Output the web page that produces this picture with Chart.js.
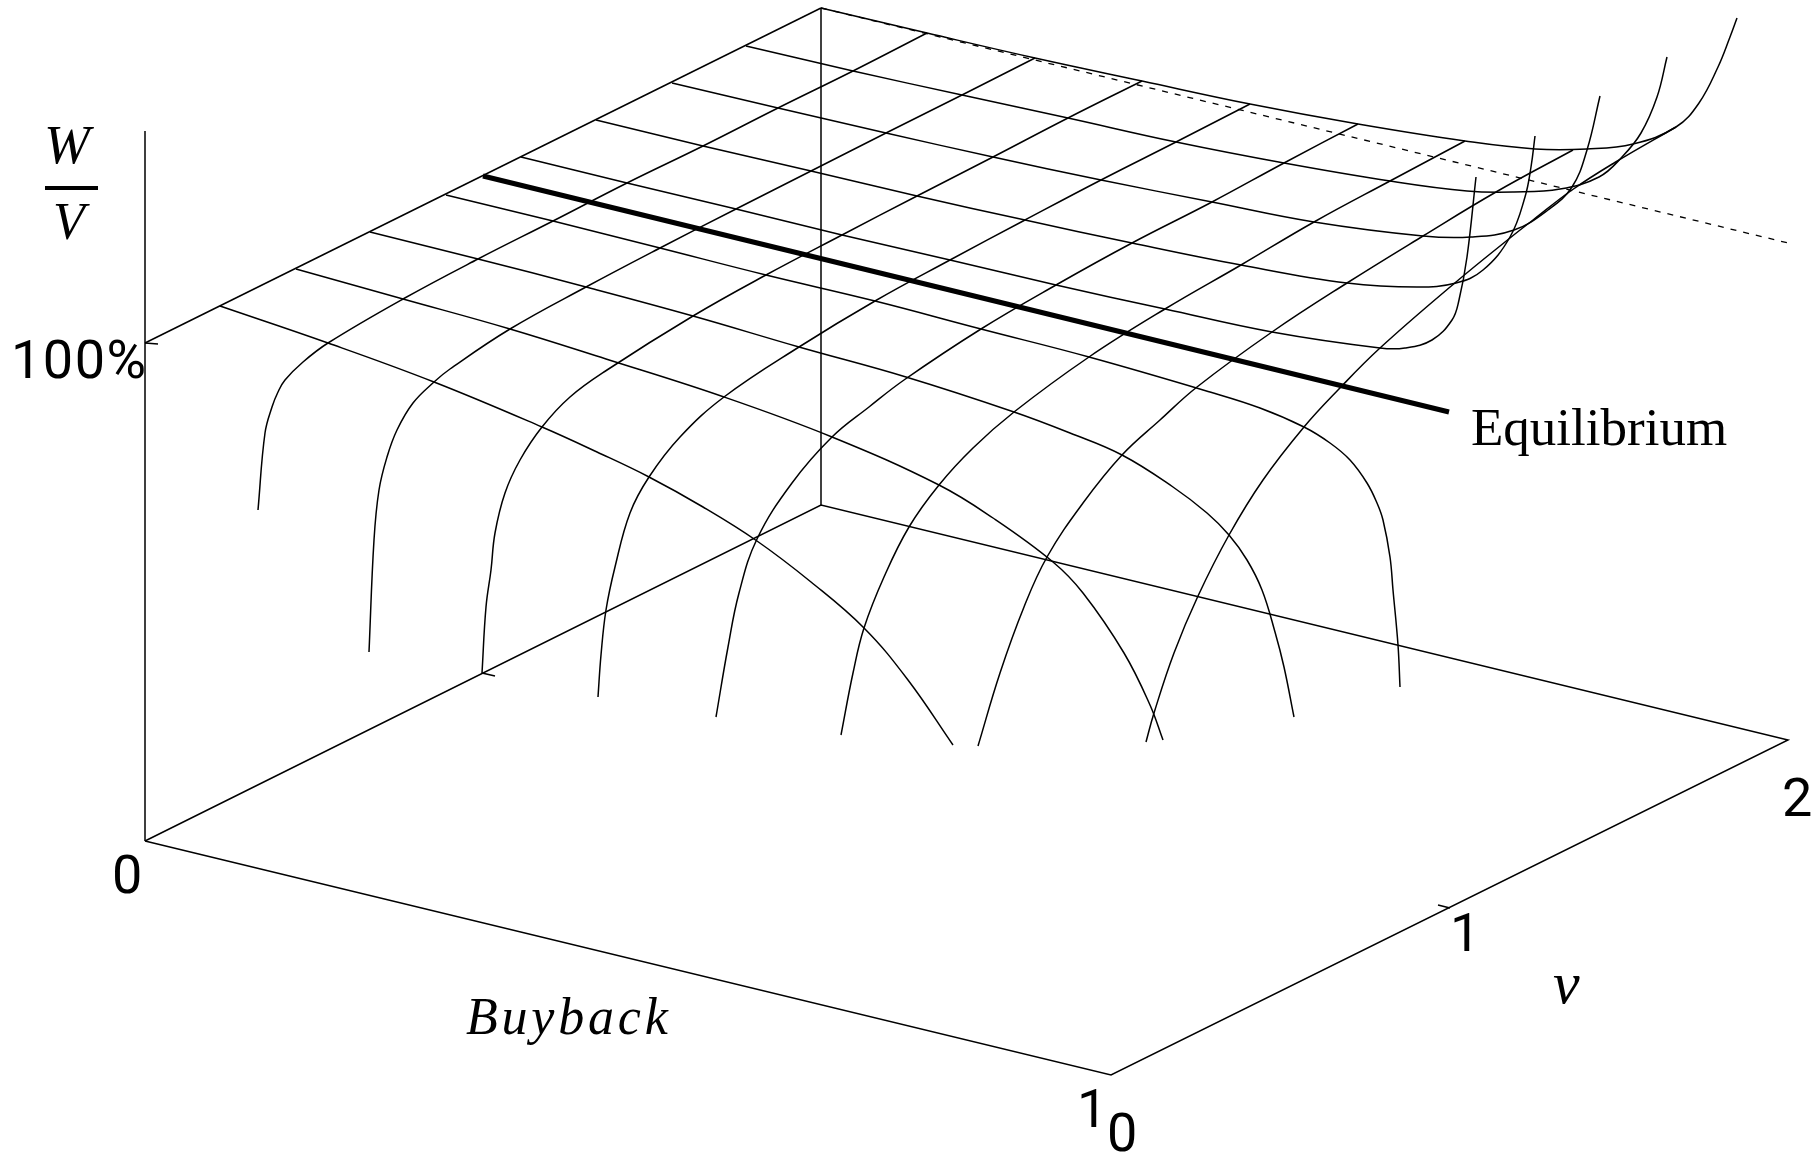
<!DOCTYPE html>
<html>
<head>
<meta charset="utf-8">
<title>Buyback surface</title>
<style>
  html, body { margin: 0; padding: 0; background: #fff; }
  canvas { display: block; }
</style>
<script src="https://cdn.jsdelivr.net/npm/chart.js@4/dist/chart.umd.js"></script>
</head>
<body>
<canvas id="surfaceChart" width="1818" height="1156"></canvas>
<script>
// box edges in picture units
const verticalAxis = [[145, 131], [145, 841]];
const floorEdges = [[145, 841], [821, 505], [1788, 740], [1111, 1075], [145, 841]];
const backPost = [[821, 505], [821, 8]];
const topLeftEdge = [[145, 343], [821, 8]];
const tickMarks = [
  [[145, 343], [158, 344]],
  [[482, 673], [495, 676]],
  [[1450, 908], [1438, 905]],
];

// equilibrium and the dashed 100% line
const equilibrium = [[483, 176], [1449, 412]];
const dashedLevel = [[821, 8], [1788, 243]];
const fractionBar = [[45, 188], [98, 188]];

// buyback direction curves, front to back
const buyback0 = [[220, 306], [328, 343], [434, 382], [542, 427], [597, 452], [649, 477], [703, 507], [757, 541], [811, 582], [864, 628], [908, 680], [953, 745]];
const buyback1 = [[296, 269], [403, 299], [510, 329], [606, 359], [724, 397], [832, 437], [939, 485], [993, 518], [1053, 562], [1083, 593], [1124, 653], [1150, 705], [1163, 740]];
const buyback2 = [[370, 232], [478, 259], [586, 287], [693, 316], [799, 347], [906, 377], [1014, 412], [1070, 433], [1122, 455], [1173, 487], [1207, 513], [1229, 535], [1247, 560], [1262, 590], [1275, 632], [1284, 667], [1294, 717]];
const buyback3 = [[446, 195], [553, 221], [660, 248], [766, 275], [875, 301], [981, 329], [1089, 357], [1210, 392], [1260, 408], [1304, 427], [1330, 443], [1350, 460], [1367, 483], [1377, 503], [1383, 520], [1390, 557], [1393, 590], [1398, 645], [1400, 687]];
const buyback4 = [[521, 157], [627, 183], [736, 209], [842, 235], [950, 260], [1056, 285], [1165, 309], [1272, 332], [1380, 348], [1405, 348], [1432, 340], [1452, 320], [1459, 300], [1467, 257], [1476, 177]];
const buyback5 = [[596, 120], [703, 146], [811, 171], [917, 196], [1025, 220], [1132, 243], [1241, 265], [1347, 283], [1417, 287], [1456, 283], [1483, 270], [1510, 237], [1525, 197], [1531, 167], [1535, 136]];
const buyback6 = [[672, 83], [778, 108], [886, 133], [993, 157], [1101, 180], [1212, 202], [1314, 222], [1423, 236], [1471, 237], [1514, 230], [1548, 210], [1572, 187], [1587, 150], [1600, 96]];
const buyback7 = [[746, 46], [853, 71], [962, 95], [1068, 118], [1176, 142], [1284, 163], [1390, 181], [1467, 191], [1514, 192], [1560, 189], [1599, 177], [1622, 157], [1641, 133], [1657, 97], [1667, 57]];
const buyback8 = [[821, 8], [927, 33], [1035, 58], [1142, 81], [1250, 104], [1358, 124], [1465, 141], [1535, 149], [1587, 149], [1633, 144], [1676, 127], [1699, 103], [1718, 67], [1730, 37], [1737, 18]];

// v direction curves, left to right
const v0 = [[927, 33], [853, 71], [778, 108], [703, 146], [627, 183], [553, 221], [478, 259], [403, 299], [328, 343], [303, 362], [285, 380], [278, 392], [272, 407], [265, 433], [258, 510]];
const v1 = [[1035, 58], [962, 95], [886, 133], [811, 171], [736, 209], [660, 248], [586, 287], [510, 329], [450, 369], [434, 382], [413, 403], [397, 430], [387, 457], [379, 490], [374, 540], [369, 652]];
const v2 = [[1142, 81], [1068, 118], [993, 157], [917, 196], [842, 235], [766, 275], [693, 316], [607, 370], [570, 397], [542, 427], [520, 460], [505, 493], [495, 533], [491, 570], [486, 607], [482, 673]];
const v3 = [[1250, 104], [1176, 142], [1101, 180], [1025, 220], [950, 260], [875, 301], [799, 347], [724, 397], [680, 437], [649, 477], [630, 513], [615, 567], [606, 610], [601, 655], [598, 697]];
const v4 = [[1358, 124], [1284, 163], [1212, 202], [1132, 243], [1056, 285], [981, 329], [904, 380], [869, 407], [832, 437], [792, 483], [757, 539], [739, 593], [728, 647], [716, 717]];
const v5 = [[1465, 141], [1390, 181], [1314, 222], [1241, 265], [1165, 309], [1089, 357], [1014, 412], [973, 448], [939, 485], [909, 527], [884, 577], [864, 628], [853, 673], [841, 735]];
const v6 = [[1573, 150], [1496, 192], [1423, 236], [1347, 283], [1272, 332], [1197, 387], [1160, 420], [1122, 455], [1083, 503], [1047, 557], [1024, 607], [1000, 673], [978, 746]];
const v7 = [[1676, 127], [1614, 163], [1572, 190], [1533, 220], [1510, 238], [1456, 282], [1380, 348], [1338, 390], [1304, 427], [1263, 480], [1229, 535], [1198, 596], [1174, 653], [1154, 713], [1146, 742]];

// labels
const tickLabels = ["100%", "0", "1", "0", "1", "2"];
const tickLabelSpots = [[11, 378], [112, 893], [1077, 1127], [1107, 1151], [1450, 951], [1782, 816]];
const italicLabels = ["W", "V", "v", "Buyback"];
const italicLabelSpots = [[44, 163], [53, 239], [1553, 1003], [466, 1034]];
const noteLabel = "Equilibrium";
const noteLabelSpot = [1471, 445];

const thinCurves = [buyback0, buyback1, buyback2, buyback3, buyback4, buyback5, buyback6, buyback7, buyback8, v0, v1, v2, v3, v4, v5, v6, v7];
const straightLines = [verticalAxis, floorEdges, backPost, topLeftEdge, ...tickMarks];

function toPoints(line) {
  return line.map(function (p) {
    return { x: p[0], y: p[1] };
  });
}

function lineSet(line, width, tension, dash) {
  return {
    data: toPoints(line),
    showLine: true,
    borderColor: "#000",
    borderWidth: width,
    borderDash: dash || [],
    tension: tension,
    pointRadius: 0,
    fill: false,
  };
}

// text sits at scale positions, the canvas has no axes to hang it on
const textPlugin = {
  id: "surfaceText",
  afterDraw(chart) {
    const ctx = chart.ctx;
    const xs = chart.scales.x;
    const ys = chart.scales.y;

    function put(text, spot, font, spacing) {
      ctx.font = font;
      ctx.letterSpacing = spacing || "0px";
      ctx.fillText(text, xs.getPixelForValue(spot[0]), ys.getPixelForValue(spot[1]));
    }

    ctx.save();
    ctx.fillStyle = "#000";
    ctx.textAlign = "left";
    ctx.textBaseline = "alphabetic";
    tickLabels.forEach(function (t, i) {
      put(t, tickLabelSpots[i], "54px Roboto", i === 0 ? "1.5px" : "0px");
    });
    put(italicLabels[0], italicLabelSpots[0], 'italic 55px "Liberation Serif"');
    put(italicLabels[1], italicLabelSpots[1], 'italic 52px "Liberation Serif"');
    put(italicLabels[2], italicLabelSpots[2], 'italic 60px "Liberation Serif"');
    put(italicLabels[3], italicLabelSpots[3], 'italic 52px "Liberation Serif"', "3.8px");
    put(noteLabel, noteLabelSpot, '53px "Liberation Serif"');
    ctx.restore();
  },
};

const datasets = [
  ...straightLines.map(function (l) { return lineSet(l, 1.5, 0); }),
  ...thinCurves.map(function (l) { return lineSet(l, 1.5, 0.4); }),
  lineSet(dashedLevel, 1.3, 0, [6, 7]),
  lineSet(equilibrium, 5, 0),
  lineSet(fractionBar, 4, 0),
];

new Chart(document.getElementById("surfaceChart").getContext("2d"), {
  type: "scatter",
  data: { datasets: datasets },
  options: {
    responsive: false,
    animation: false,
    layout: { padding: 0 },
    plugins: { legend: { display: false }, tooltip: { enabled: false } },
    scales: {
      x: { type: "linear", min: 0, max: 1818, display: false },
      y: { type: "linear", min: 0, max: 1156, reverse: true, display: false },
    },
  },
  plugins: [textPlugin],
});
</script>
</body>
</html>
